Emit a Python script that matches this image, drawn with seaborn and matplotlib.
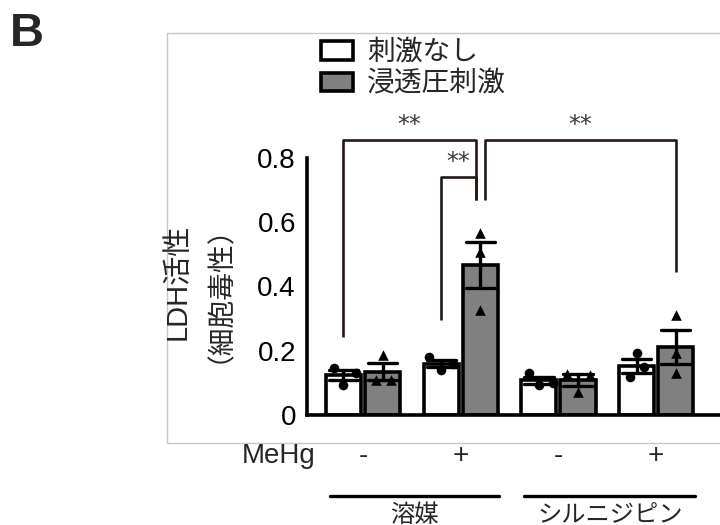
import numpy as np
import pandas as pd
import seaborn as sns
import matplotlib
matplotlib.use("Agg")
import matplotlib.pyplot as plt
from matplotlib.patches import Rectangle, Patch
import matplotlib.transforms as mtransforms

# ---- data -------------------------------------------------------------
vehicles = ["溶媒", "溶媒", "シルニジピン", "シルニジピン"]
mehg = ["-", "+", "-", "+"]
stim_labels = ["刺激なし", "浸透圧刺激"]

# LDH activity per replicate (three wells per condition)
no_stim = [[0.146, 0.093, 0.131],
           [0.180, 0.140, 0.159],
           [0.131, 0.093, 0.100],
           [0.118, 0.193, 0.148]]
osmotic = [[0.109, 0.187, 0.109],
           [0.567, 0.508, 0.327],
           [0.128, 0.072, 0.125],
           [0.311, 0.193, 0.131]]

yticks = [0, 0.2, 0.4, 0.6, 0.8]
ytick_labels = ["0", "0.2", "0.4", "0.6", "0.8"]

# ---- long table -------------------------------------------------------
conds = [f"{v}|{m}" for v, m in zip(vehicles, mehg)]
rows = []
for ci, cond in enumerate(conds):
    for si, series in enumerate([no_stim, osmotic]):
        for ri, val in enumerate(series[ci]):
            rows.append({"cond": cond, "stim": stim_labels[si], "rep": ri,
                         "ci": ci, "si": si, "value": val})
df = pd.DataFrame(rows)

# ---- style ------------------------------------------------------------
sns.set_theme(style="white")
plt.rcParams["font.family"] = ["Liberation Sans", "Noto Sans CJK JP", "DejaVu Sans"]

W, H = 720, 525
fig = plt.figure(figsize=(W / 100, H / 100), dpi=100)

# axes placement in pixels
x_left, x_right = 307, 720
y_zero, y_top = 415, 33
ax = fig.add_axes([x_left / W, 1 - y_zero / H, (x_right - x_left) / W, (y_zero - y_top) / H])
ax.patch.set_visible(False)

colors = {"刺激なし": "white", "浸透圧刺激": "#808080"}
sns.barplot(data=df, x="cond", y="value", hue="stim", order=conds,
            hue_order=stim_labels, palette=colors, errorbar="se",
            capsize=0.6, err_kws={"color": "black", "linewidth": 2.4},
            edgecolor="black", linewidth=2.6, gap=0.1, width=0.8,
            legend=False, ax=ax, zorder=2)

# individual replicates
dodge = [-0.2, 0.2]
markers = ["o", "^"]
sizes = [48, 58]
point_dx = [
    [[-0.10, 0.0, 0.13], [-0.12, 0.0, 0.12], [-0.10, 0.0, 0.14], [-0.07, 0.0, 0.08]],
    [[-0.07, 0.0, 0.09], [0.0, 0.0, 0.0], [-0.11, 0.0, 0.12], [0.0, 0.0, 0.0]],
]
for si in range(2):
    sub = df[df.si == si]
    xs = sub.ci.values + dodge[si] + np.array([point_dx[si][c][r] for c, r in zip(sub.ci, sub.rep)])
    ax.scatter(xs, sub.value.values, marker=markers[si], s=sizes[si],
               color="black", linewidths=0, zorder=4)

# axis limits so data scale matches layout
px_per_unit_x = 97.7
x0 = (x_left - 363) / px_per_unit_x
ax.set_xlim(x0, x0 + (x_right - x_left) / px_per_unit_x)
ax.set_ylim(0, (y_zero - y_top) / 321.25)

ax.set_xlabel("")
ax.set_ylabel("")
ax.set_yticks(yticks)
ax.set_yticklabels(ytick_labels, fontsize=20)
ax.set_xticks(range(4))
ax.set_xticklabels(mehg, fontsize=20)
ax.tick_params(axis="x", length=0, pad=20)
ax.tick_params(axis="y", length=5, width=2.4, pad=3, color="black", labelcolor="black")

for s in ["top", "right"]:
    ax.spines[s].set_visible(False)
for s in ["left", "bottom"]:
    ax.spines[s].set_color("black")
    ax.spines[s].set_linewidth(2.6)
ax.spines["left"].set_bounds(0, 0.8)

# significance brackets
bk = "#231815"

def bx(ci, si):
    return ci + dodge[si]

def bracket(xa, xb, ya, yb, ytop, label):
    ax.plot([xa, xa, xb, xb], [ya, ytop, ytop, yb], color=bk, lw=1.9,
            clip_on=False, solid_capstyle="butt", zorder=3)
    ax.text((xa + xb) / 2, ytop + 0.010, label, ha="center", va="bottom",
            fontsize=17, color="#3a3a3a", family="DejaVu Sans")

bracket(bx(0, 0), bx(1, 1) - 0.045, 0.243, 0.669, 0.856, "**")
bracket(bx(1, 0), bx(1, 1) - 0.045, 0.296, 0.669, 0.741, "**")
bracket(bx(1, 1) + 0.045, bx(3, 1), 0.669, 0.445, 0.856, "**")

# legend
handles = [Patch(facecolor=colors[l], edgecolor="black", linewidth=2.6) for l in stim_labels]
fig.legend(handles, stim_labels, loc="upper left", bbox_to_anchor=(321 / W, 1 - 40 / H),
           frameon=False, fontsize=20, handlelength=1.15, handleheight=0.65,
           handletextpad=0.5, labelspacing=0.2, borderpad=0, borderaxespad=0)

# y-axis title (two lines)
fig.text(178 / W, 1 - 282 / H, "LDH活性", rotation=90, ha="center", va="center", fontsize=21)
fig.text(206 / W, 1 - 280 / H, "（細胞毒性）", rotation=90, ha="center", va="center", fontsize=20)

# MeHg row label
fig.text(315 / W, 1 - 456 / H, "MeHg", ha="right", va="center", fontsize=20)

# group underlines and names
trans = mtransforms.blended_transform_factory(ax.transData, fig.transFigure)
group_spans = [(-0.34, 1.39, "溶媒"), (1.65, 3.40, "シルニジピン")]
for a, b, name in group_spans:
    ax.plot([a, b], [1 - 496 / H] * 2, color="black", lw=2.4, transform=trans, clip_on=False)
    ax.text((a + b) / 2, 1 - 521.5 / H, name, transform=trans, ha="center", va="baseline", fontsize=17.5)

# light frame around the panel
fig.add_artist(Rectangle((167 / W, 1 - 443 / H), 1.0, (443 - 33) / H, transform=fig.transFigure,
                         fill=False, edgecolor="#c8c8c8", linewidth=1.0, zorder=0))

# panel letter
fig.text(10 / W, 1 - 12 / H, "B", ha="left", va="top", fontsize=34, fontweight="bold")

fig.savefig("out.png", dpi=100)
